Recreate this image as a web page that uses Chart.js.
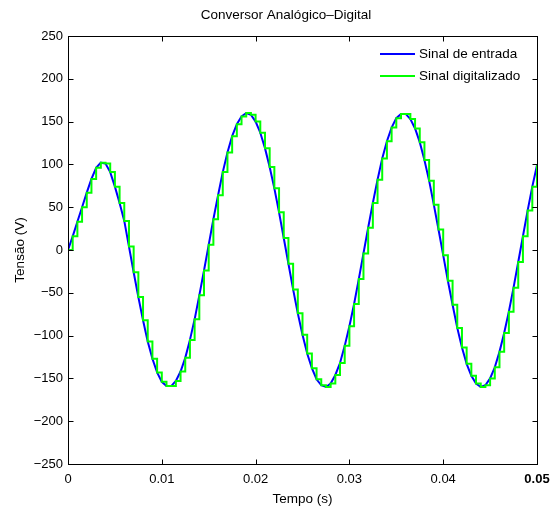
<!DOCTYPE html>
<html>
<head>
<meta charset="utf-8">
<script src="https://cdn.jsdelivr.net/npm/chart.js@4/dist/chart.umd.min.js"></script>
<style>
  html, body { margin: 0; padding: 0; background: #fff; }
  #wrap { width: 552px; height: 511px; }
</style>
</head>
<body>
<div id="wrap"><canvas id="adc" width="552" height="511"></canvas></div>
<script>
// ── Data ───────────────────────────────────────────────────────────

const TITLE = 'Conversor Analógico–Digital';
const X_LABEL = 'Tempo (s)';
const Y_LABEL = 'Tensão (V)';
const SERIES_NAMES = ['Sinal de entrada', 'Sinal digitalizado'];

const X_TICKS = [0, 0.01, 0.02, 0.03, 0.04, 0.05];
const Y_TICKS = [-250, -200, -150, -100, -50, 0, 50, 100, 150, 200, 250];

// sample instants of the converter (s)
const sampleTimes = [
  0, 0.0005, 0.001, 0.0015, 0.002, 0.0025, 0.003, 0.0035, 0.004, 0.0045,
  0.005, 0.0055, 0.006, 0.0065, 0.007, 0.0075, 0.008, 0.0085, 0.009, 0.0095,
  0.01, 0.0105, 0.011, 0.0115, 0.012, 0.0125, 0.013, 0.0135, 0.014, 0.0145,
  0.015, 0.0155, 0.016, 0.0165, 0.017, 0.0175, 0.018, 0.0185, 0.019, 0.0195,
  0.02, 0.0205, 0.021, 0.0215, 0.022, 0.0225, 0.023, 0.0235, 0.024, 0.0245,
  0.025, 0.0255, 0.026, 0.0265, 0.027, 0.0275, 0.028, 0.0285, 0.029, 0.0295,
  0.03, 0.0305, 0.031, 0.0315, 0.032, 0.0325, 0.033, 0.0335, 0.034, 0.0345,
  0.035, 0.0355, 0.036, 0.0365, 0.037, 0.0375, 0.038, 0.0385, 0.039, 0.0395,
  0.04, 0.0405, 0.041, 0.0415, 0.042, 0.0425, 0.043, 0.0435, 0.044, 0.0445,
  0.045, 0.0455, 0.046, 0.0465, 0.047, 0.0475, 0.048, 0.0485, 0.049, 0.0495,
  0.05,
];

// input voltage at each sample instant (V)
const inputVolts = [
  0, 16, 33, 50, 67, 83, 96, 102, 101, 91,
  74, 55, 34, 4, -26, -55, -82, -107, -127, -143,
  -154, -159, -159, -153, -142, -126, -105, -81, -53, -24,
  6, 36, 64, 91, 114, 133, 147, 156, 160, 158,
  150, 137, 119, 97, 72, 44, 14, -16, -46, -74,
  -99, -121, -138, -151, -158, -160, -156, -146, -132, -112,
  -89, -63, -34, -4, 26, 55, 82, 107, 127, 143,
  154, 159, 159, 153, 142, 126, 105, 81, 53, 24,
  -6, -36, -64, -91, -114, -133, -147, -156, -160, -158,
  -150, -137, -119, -97, -72, -44, -14, 16, 46, 74,
  99,
];

// held value after each conversion (sample-and-hold, V)
const digitizedVolts = inputVolts.slice();

// ── Styling ────────────────────────────────────────────────────────

const FONT = "'Liberation Sans', Arial, Helvetica, sans-serif";
const BLUE = '#0000ff';
const GREEN = '#00ff00';

Chart.defaults.font.family = FONT;
Chart.defaults.font.size = 13;
Chart.defaults.color = '#000';

const fmtTick = v => {
  const n = Number(v.toFixed(3));
  return n < 0 ? '\u2212' + Math.abs(n) : String(n);
};

// ── Box, inward ticks, title, legend (Matlab look) ─────────────────

const matlabFrame = {
  id: 'matlabFrame',
  afterDraw(chart) {
    const { ctx, chartArea: a, scales } = chart;
    const L = Math.round(a.left) + 0.5, R = Math.round(a.right) + 0.5;
    const T = Math.round(a.top) + 0.5, B = Math.round(a.bottom) + 0.5;
    const tick = 5;

    ctx.save();
    ctx.strokeStyle = '#000';
    ctx.lineWidth = 1;
    ctx.strokeRect(L, T, R - L, B - T);

    ctx.beginPath();
    X_TICKS.forEach(v => {
      const x = Math.round(scales.x.getPixelForValue(v)) + 0.5;
      ctx.moveTo(x, B); ctx.lineTo(x, B - tick);
      ctx.moveTo(x, T); ctx.lineTo(x, T + tick);
    });
    Y_TICKS.forEach(v => {
      const y = Math.round(scales.y.getPixelForValue(v)) + 0.5;
      ctx.moveTo(L, y); ctx.lineTo(L + tick, y);
      ctx.moveTo(R, y); ctx.lineTo(R - tick, y);
    });
    ctx.stroke();

    // title
    ctx.fillStyle = '#000';
    ctx.font = `13.5px ${FONT}`;
    ctx.textAlign = 'center';
    ctx.textBaseline = 'middle';
    ctx.fillText(TITLE, 286, 15);

    // legend
    const items = [
      { name: SERIES_NAMES[0], color: BLUE, y: 54 },
      { name: SERIES_NAMES[1], color: GREEN, y: 76 },
    ];
    ctx.textAlign = 'left';
    ctx.lineWidth = 2;
    items.forEach(it => {
      ctx.strokeStyle = it.color;
      ctx.beginPath();
      ctx.moveTo(380, it.y); ctx.lineTo(415, it.y);
      ctx.stroke();
      ctx.fillText(it.name, 419, it.y);
    });
    ctx.restore();
  },
};

// ── Chart ──────────────────────────────────────────────────────────

const toPoints = ys => sampleTimes.map((t, i) => ({ x: t, y: ys[i] }));

new Chart(document.getElementById('adc'), {
  type: 'line',
  data: {
    datasets: [
      {
        label: SERIES_NAMES[0],
        data: toPoints(inputVolts),
        borderColor: BLUE,
        borderWidth: 2,
        pointRadius: 0,
        tension: 0,
        order: 1,
      },
      {
        label: SERIES_NAMES[1],
        data: toPoints(digitizedVolts),
        borderColor: GREEN,
        borderWidth: 2,
        pointRadius: 0,
        stepped: true,
        order: 0,
      },
    ],
  },
  options: {
    responsive: false,
    animation: false,
    events: [],
    layout: { padding: { top: 36, right: 15, left: 0, bottom: 0 } },
    plugins: { legend: { display: false }, title: { display: false }, tooltip: { enabled: false } },
    scales: {
      x: {
        type: 'linear',
        min: 0,
        max: 0.05,
        afterBuildTicks: s => { s.ticks = X_TICKS.map(value => ({ value })); },
        afterFit: s => { s.height = 47; s.paddingLeft = 0; s.paddingRight = 0; },
        ticks: {
          padding: 8,
          maxRotation: 0,
          callback: fmtTick,
          font: ctx => ({ size: 13, weight: ctx.tick && ctx.tick.value === 0.05 ? 'bold' : 'normal' }),
        },
        grid: { display: false, drawTicks: false },
        border: { display: false },
        title: { display: true, text: X_LABEL, font: { size: 13.5 }, padding: { top: 0, bottom: 4 } },
      },
      y: {
        type: 'linear',
        min: -250,
        max: 250,
        afterBuildTicks: s => { s.ticks = Y_TICKS.map(value => ({ value })); },
        afterFit: s => { s.width = 68; s.paddingTop = 0; s.paddingBottom = 0; },
        ticks: { padding: 5, callback: fmtTick },
        grid: { display: false, drawTicks: false },
        border: { display: false },
        title: { display: true, text: Y_LABEL, font: { size: 13.5 }, padding: { top: 12, bottom: 0 } },
      },
    },
  },
  plugins: [matlabFrame],
});
</script>
</body>
</html>
